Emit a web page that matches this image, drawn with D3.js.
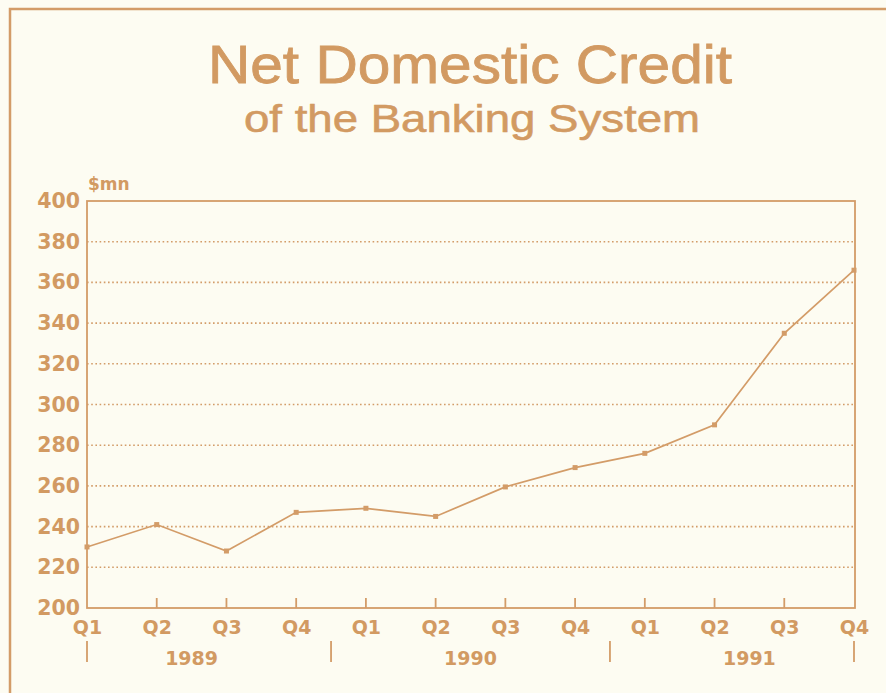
<!DOCTYPE html>
<html><head><meta charset="utf-8">
<script src="https://cdn.jsdelivr.net/npm/d3@7"></script>
<style>
html,body{margin:0;padding:0;background:#fdfcf2;}
svg{display:block;font-family:"Liberation Sans",Arial,Helvetica,sans-serif;}
</style></head><body>
<svg id="chart" width="886" height="693"></svg>
<script>
const quarters = ["Q1","Q2","Q3","Q4","Q1","Q2","Q3","Q4","Q1","Q2","Q3","Q4"];
const years = ["1989","1990","1991"];
const values = [230, 241, 228, 247, 249, 245, 259.5, 269, 276, 290, 335, 366];
const yTicks = [200,220,240,260,280,300,320,340,360,380,400];

const col = "#d39c68";
const txt = "#d29a62";
const boldFont = "'DejaVu Sans',Verdana,sans-serif";
const svg = d3.select("#chart");
const W = 886, H = 693;
const m = {left: 87, right: 855, top: 201, bottom: 608};

svg.append("rect").attr("width", W).attr("height", H).attr("fill", "#fdfcf2");
// page frame
svg.append("path").attr("d", `M10,${H} L10,9 L${W},9`).attr("fill","none").attr("stroke",col).attr("stroke-width",2.5);

// titles
svg.append("text").attr("x", 208).attr("y", 83)
  .attr("font-size", 53).attr("fill", txt).attr("stroke", txt).attr("stroke-width", 0.8)
  .attr("textLength", 524).attr("lengthAdjust", "spacingAndGlyphs").text("Net Domestic Credit");
svg.append("text").attr("x", 244).attr("y", 132)
  .attr("font-size", 39).attr("fill", txt).attr("stroke", txt).attr("stroke-width", 0.6)
  .attr("textLength", 456).attr("lengthAdjust", "spacingAndGlyphs").text("of the Banking System");

const x = d3.scalePoint().domain(d3.range(quarters.length)).range([m.left, m.right - 1]);
const y = d3.scaleLinear().domain([200, 400]).range([m.bottom, m.top]);

// gridlines
svg.append("g").selectAll("line").data(yTicks.filter(t => t > 200 && t < 400)).join("line")
  .attr("x1", m.left).attr("x2", m.right).attr("y1", d => y(d)).attr("y2", d => y(d))
  .attr("stroke", col).attr("stroke-width", 1.6).attr("stroke-dasharray", "1.6,2.6");

// plot frame
svg.append("rect").attr("x", m.left).attr("y", m.top).attr("width", m.right - m.left).attr("height", m.bottom - m.top)
  .attr("fill","none").attr("stroke", col).attr("stroke-width", 1.8);

// y axis
const yAxis = d3.axisLeft(y).tickValues(yTicks).tickSize(0).tickPadding(7);
const gy = svg.append("g").attr("transform", `translate(${m.left},0)`).call(yAxis);
gy.select(".domain").remove();
gy.selectAll("text").attr("font-size", 20.5).attr("font-weight","bold").attr("fill", txt)
  .attr("font-family", boldFont);

svg.append("text").attr("x", 88).attr("y", 190).attr("font-size", 17).attr("font-weight","bold")
  .attr("font-family", boldFont).attr("fill", txt).text("$mn");

// x axis
const xAxis = d3.axisBottom(x).tickFormat(i => quarters[i]).tickSize(0).tickPadding(13);
const gx = svg.append("g").attr("transform", `translate(0,${m.bottom})`).call(xAxis);
gx.select(".domain").remove();
gx.selectAll("text").attr("font-size", 19).attr("font-weight","bold").attr("fill", txt)
  .attr("font-family", boldFont);

// inward x ticks
svg.append("g").selectAll("line").data(d3.range(1, quarters.length - 1)).join("line")
  .attr("x1", d => x(d)).attr("x2", d => x(d)).attr("y1", m.bottom).attr("y2", m.bottom - 10)
  .attr("stroke", col).attr("stroke-width", 1.8);

// year separators
const sepIdx = [0, 3.5, 7.5, 11];
const xs = i => x(0) + (x(1) - x(0)) * i;
svg.append("g").selectAll("line").data(sepIdx).join("line")
  .attr("x1", d => xs(d)).attr("x2", d => xs(d)).attr("y1", 641).attr("y2", 662)
  .attr("stroke", col).attr("stroke-width", 1.8);

svg.append("g").selectAll("text").data(years).join("text")
  .attr("x", (d, i) => xs(i * 4 + 1.5)).attr("y", 665).attr("text-anchor","middle")
  .attr("font-size", 19).attr("font-weight","bold").attr("font-family", boldFont)
  .attr("fill", txt).text(d => d);

// line
const line = d3.line().x((d, i) => x(i)).y(d => y(d));
svg.append("path").datum(values).attr("d", line).attr("fill","none")
  .attr("stroke", col).attr("stroke-width", 1.7);
svg.append("g").selectAll("rect").data(values).join("rect")
  .attr("x", (d, i) => x(i) - 2.5).attr("y", d => y(d) - 2.5).attr("width", 5).attr("height", 5)
  .attr("fill", col);
</script>
</body></html>
